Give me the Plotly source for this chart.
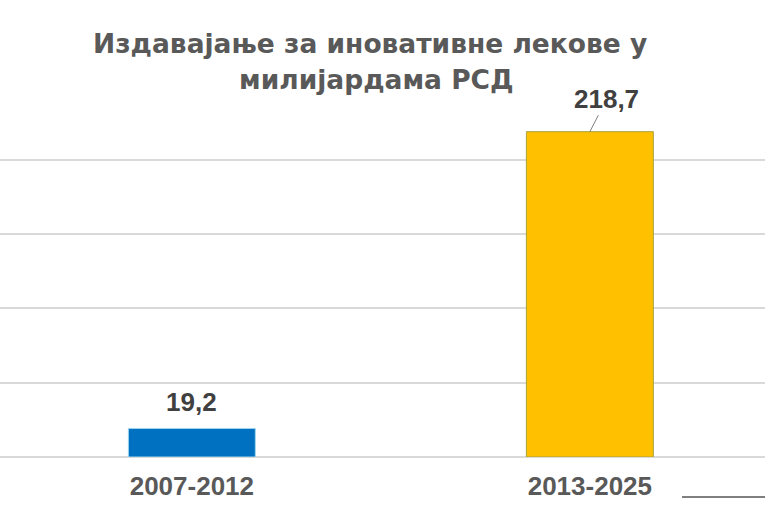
import plotly.graph_objects as go

# Data
categories = ["2007-2012", "2013-2025"]
values = [19.2, 218.7]
value_labels = ["19,2", "218,7"]
bar_colors = ["#0070C0", "#FFC000"]
bar_outlines = ["#9ED8F0", "#A8A23C"]
title_line1 = "Издавајање за иновативне лекове у"
title_line2 = "милијардама РСД"

FONT = "Liberation Sans, Arial, sans-serif"
TITLE_FONT = "DejaVu Sans, Liberation Sans, sans-serif"
GREY = "#595959"
DARK = "#404040"

Y_MAX = 240
PLOT_TOP = 457 - Y_MAX * 1.486
PLOT_H = 457 - PLOT_TOP


def py(pix):
    return (457 - pix) / PLOT_H


fig = go.Figure()
fig.add_trace(go.Bar(
    x=[0, 1],
    y=values,
    width=0.319,
    marker=dict(color=bar_colors, line=dict(color=bar_outlines, width=1)),
    hoverinfo="skip",
))

# value labels
fig.add_annotation(x=0, y=values[0], text="<b>" + value_labels[0] + "</b>",
                   showarrow=False, yanchor="bottom", yshift=9,
                   font=dict(family=FONT, size=26, color=DARK))
fig.add_annotation(x=1, y=values[1], text="<b>" + value_labels[1] + "</b>",
                   showarrow=True, arrowhead=0, arrowwidth=1, arrowcolor="#7f7f7f",
                   ax=17, ay=-33, standoff=0,
                   font=dict(family=FONT, size=26, color=DARK))

# title lines
fig.add_annotation(xref="paper", yref="paper", x=370 / 765, y=py(44),
                   text="<b>" + title_line1 + "</b>", showarrow=False,
                   xanchor="center", yanchor="middle",
                   font=dict(family=TITLE_FONT, size=26.5, color=GREY))
fig.add_annotation(xref="paper", yref="paper", x=376 / 765, y=py(80),
                   text="<b>" + title_line2 + "</b>", showarrow=False,
                   xanchor="center", yanchor="middle",
                   font=dict(family=TITLE_FONT, size=26.5, color=GREY))

# stray line fragment at bottom right
fig.add_shape(type="line", xref="paper", yref="paper",
              x0=682 / 765, x1=1.0, y0=py(497), y1=py(497),
              line=dict(color="#808080", width=2))

fig.update_layout(
    template="none",
    width=765, height=510,
    margin=dict(l=0, r=0, t=PLOT_TOP, b=510 - 457, pad=0, autoexpand=False),
    paper_bgcolor="white", plot_bgcolor="white",
    showlegend=False,
    xaxis=dict(range=[-0.482, 1.44], tickmode="array", tickvals=[0, 1],
               ticktext=["<b>" + c + "</b>" for c in categories],
               tickfont=dict(family=FONT, size=26, color=GREY),
               automargin=False, ticklabelstandoff=11,
               showgrid=False, zeroline=False, showline=False, ticks=""),
    yaxis=dict(range=[0, Y_MAX], dtick=50, showgrid=True, gridcolor="#D9D9D9",
               gridwidth=2, zeroline=True, zerolinecolor="#D9D9D9", zerolinewidth=2,
               automargin=False,
               showticklabels=False, showline=False, ticks=""),
)

fig.write_html("out.html",
               config={"displayModeBar": False},
               post_script="document.body.style.margin='0';document.body.style.overflow='hidden';")
